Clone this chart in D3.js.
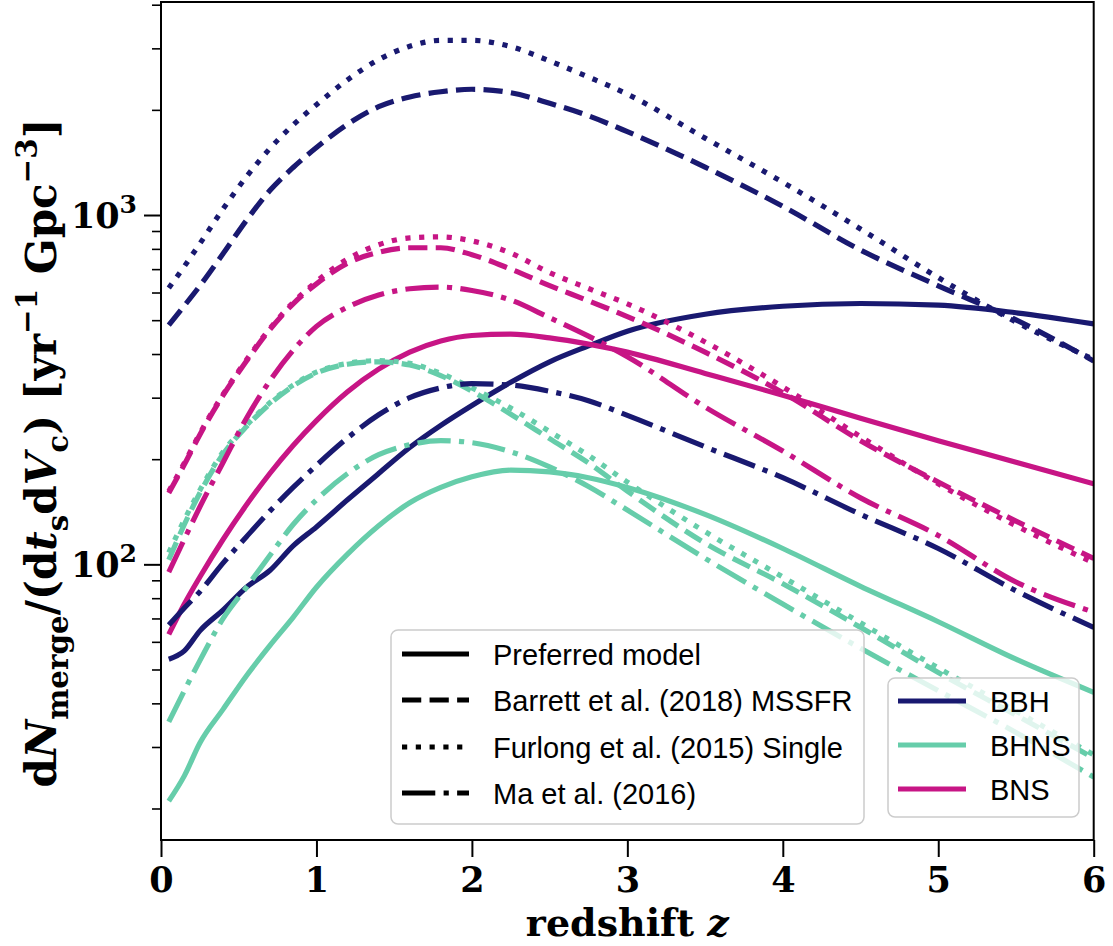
<!DOCTYPE html>
<html><head><meta charset="utf-8">
<script src="https://cdn.jsdelivr.net/npm/d3@7"></script>
<style>body{margin:0;background:#fff} svg{display:block}</style>
</head><body>
<svg id="chart" width="1113" height="946"></svg>
<script>
// ---------- data ----------
const redshift = [0.05,0.15,0.25,0.4,0.55,0.7,0.85,1.0,1.2,1.4,1.6,1.8,2.0,2.25,2.5,2.75,3.0,3.5,4.0,4.5,5.0,5.5,6.0];

const bbhPreferred = [53.5,56.5,64.5,74,86,96,113,128,153,182,216,250,285,332,380,422,465,520,548,558,552,525,488];
const bbhBarrett   = [484,550,627,776,966,1175,1368,1560,1820,2042,2178,2254,2291,2239,2089,1923,1732,1371,1059,794,627,501,382];
const bbhFurlong   = [618,713,828,1042,1288,1549,1811,2070,2438,2786,3041,3162,3162,3034,2761,2483,2218,1660,1241,912,662,494,386];
const bbhMa        = [67,75,83.5,101,120,142,166,192,230,268,300,320,329,326,313,294,267,217,177,139,111,84,66];

const bhnsPreferred = [21,24.8,30.8,38.5,48,58.5,70.5,86,107,129,150,166,178,186,184,177,166,139,111,86.5,68.5,53.5,43];
const bhnsBarrett   = [103,130,160,207,248,288,324,353,374,380,372,347,313,269,229,195,162,115,88,66,49,37,27.9];
const bhnsFurlong   = [108,134,163,210,250,290,326,355,376,383,376,352,320,280,240,205,172,124,92,68,50.5,38,28.5];
const bhnsMa        = [35.4,43.5,53,70,86,106,130,153,182,206,220,226,223,210,190,167,143,104,77,57.5,43.5,33,24.6];

const bnsPreferred = [63,77,92,118,148,182,219,258,312,362,405,436,452,456,445,427,405,352,305,262,226,196,170];
const bnsBarrett   = [160,193,235,305,382,470,557,635,728,782,806,806,770,700,628,568,512,405,310,226,172,133,104];
const bnsFurlong   = [162,195,237,307,385,473,562,645,748,822,860,866,843,778,684,616,557,433,322,232,170,129,101];
const bnsMa        = [95,118,146,196,262,335,410,480,545,590,615,622,608,571,508,450,393,282,211,155,121,89,73];

const populations = ["BBH","BHNS","BNS"];
const models = ["Preferred model","Barrett et al. (2018) MSSFR","Furlong et al. (2015) Single","Ma et al. (2016)"];
const seriesTable = [
  [bbhPreferred, bbhBarrett, bbhFurlong, bbhMa],
  [bhnsPreferred, bhnsBarrett, bhnsFurlong, bhnsMa],
  [bnsPreferred, bnsBarrett, bnsFurlong, bnsMa]
];
const xTicks = [0,1,2,3,4,5,6];
const yMajorTicks = [100,1000];
const yMajorLabels = [["10","2"],["10","3"]];
const yMinorTicks = [20,30,40,50,60,70,80,90,200,300,400,500,600,700,800,900,2000,3000,4000];

// ---------- style ----------
const colors = {BBH:"#191970", BHNS:"#66cdaa", BNS:"#c71585"};
const LW = 5.2;
const dashes = [null, `${3.7*LW},${1.6*LW}`, `${1*LW},${1.65*LW}`, `${6.4*LW},${1.6*LW},${1*LW},${1.6*LW}`];
const serif = "'DejaVu Serif', serif";
const sans = "'Liberation Sans', Arial, sans-serif";

const svg = d3.select("#chart");
const L = 161, R = 1093.7, T = 2, B = 840;
const x = d3.scaleLinear().domain([0,6]).range([L,R]);
const y = d3.scaleLog().domain([16.25,4072]).range([B,T]);

svg.append("defs").append("clipPath").attr("id","clip")
  .append("rect").attr("x",L).attr("y",T).attr("width",R-L).attr("height",B-T);

const line = d3.line().x(d=>x(d[0])).y(d=>y(d[1])).curve(d3.curveMonotoneX);
const plot = svg.append("g").attr("clip-path","url(#clip)");

for (let mi=0; mi<models.length; mi++) {
  for (let pi=0; pi<populations.length; pi++) {
    const vals = seriesTable[pi][mi];
    plot.append("path")
      .attr("d", line(redshift.map((z,i)=>[z, vals[i]])))
      .attr("fill","none")
      .attr("stroke", colors[populations[pi]])
      .attr("stroke-width", LW)
      .attr("stroke-linecap","butt")
      .attr("stroke-dasharray", dashes[mi]);
  }
}

// ---------- axes ----------
const xAxis = svg.append("g").attr("transform",`translate(0,${B})`)
  .call(d3.axisBottom(x).tickValues(xTicks).tickSize(17).tickFormat(d3.format("d")));
xAxis.select(".domain").remove();
xAxis.selectAll(".tick line").attr("stroke","#000").attr("stroke-width",2);
xAxis.selectAll(".tick text").attr("y",52).attr("dy",null)
  .attr("font-family",serif).attr("font-weight","bold").attr("font-size",35).attr("fill","#000");

const yAxisMaj = svg.append("g").attr("transform",`translate(${L},0)`)
  .call(d3.axisLeft(y).tickValues(yMajorTicks).tickSize(17).tickFormat(""));
yAxisMaj.select(".domain").remove();
yAxisMaj.selectAll(".tick line").attr("stroke","#000").attr("stroke-width",2);
const yAxisMin = svg.append("g").attr("transform",`translate(${L},0)`)
  .call(d3.axisLeft(y).tickValues(yMinorTicks).tickSize(9).tickFormat(""));
yAxisMin.select(".domain").remove();
yAxisMin.selectAll(".tick line").attr("stroke","#000").attr("stroke-width",1.6);

yMajorTicks.forEach((v,i)=>{
  const t = svg.append("text").attr("x",137).attr("y",y(v)+13)
    .attr("text-anchor","end").attr("font-family",serif).attr("font-weight","bold")
    .attr("font-size",35).attr("fill","#000");
  t.append("tspan").text(yMajorLabels[i][0]);
  t.append("tspan").attr("font-size",25).attr("dy",-15).text(yMajorLabels[i][1]);
});

// frame
svg.append("rect").attr("x",L).attr("y",T).attr("width",R-L).attr("height",B-T)
  .attr("fill","none").attr("stroke","#000").attr("stroke-width",2);

// ---------- axis labels ----------
function rich(textSel, parts, size) {
  let off = 0;
  parts.forEach(p=>{
    const ts = textSel.append("tspan").text(p.t);
    let target = 0, fs = size;
    if (p.sub) { target = 0.28*size; fs = 0.7*size; }
    if (p.sup) { target = -0.45*size; fs = 0.7*size; }
    ts.attr("font-size", fs).attr("dy", target-off);
    if (p.it) ts.attr("font-style","italic");
    off = target;
  });
}
const xl = svg.append("text").attr("x",(L+R)/2).attr("y",936).attr("text-anchor","middle")
  .attr("font-family",serif).attr("font-weight","bold").attr("fill","#000");
rich(xl,[{t:"redshift "},{t:"z",it:true}],38);

const yl = svg.append("text").attr("transform","translate(56,453) rotate(-90)")
  .attr("text-anchor","middle").attr("font-family",serif).attr("font-weight","bold").attr("fill","#000");
rich(yl,[{t:"d"},{t:"N",it:true},{t:"merge",sub:true},{t:"/(d"},{t:"t",it:true},{t:"s",sub:true},
  {t:"d"},{t:"V",it:true},{t:"c",sub:true},{t:") [yr"},{t:"\u22121",sup:true},{t:" Gpc"},{t:"\u22123",sup:true},{t:"]"}],42);

// ---------- legends ----------
function legendBox(x0,y0,x1,y1){
  svg.append("rect").attr("x",x0).attr("y",y0).attr("width",x1-x0).attr("height",y1-y0)
    .attr("rx",7).attr("fill","#fff").attr("fill-opacity",0.8)
    .attr("stroke","#cccccc").attr("stroke-width",1.5);
}
legendBox(391,630,864,824);
const leg1Y = [654,700,747,793];
models.forEach((m,i)=>{
  svg.append("line").attr("x1",402).attr("x2",469).attr("y1",leg1Y[i]).attr("y2",leg1Y[i])
    .attr("stroke","#000").attr("stroke-width",LW).attr("stroke-dasharray",dashes[i]);
  svg.append("text").attr("x",493).attr("y",leg1Y[i]+11).attr("font-family",sans)
    .attr("font-size",29).attr("fill","#000").text(m);
});
legendBox(888,678,1079,817);
const leg2Y = [701,745,789];
populations.forEach((p,i)=>{
  svg.append("line").attr("x1",898).attr("x2",966).attr("y1",leg2Y[i]).attr("y2",leg2Y[i])
    .attr("stroke",colors[p]).attr("stroke-width",LW);
  svg.append("text").attr("x",990).attr("y",leg2Y[i]+11).attr("font-family",sans)
    .attr("font-size",29).attr("fill","#000").text(p);
});
</script>
</body></html>
